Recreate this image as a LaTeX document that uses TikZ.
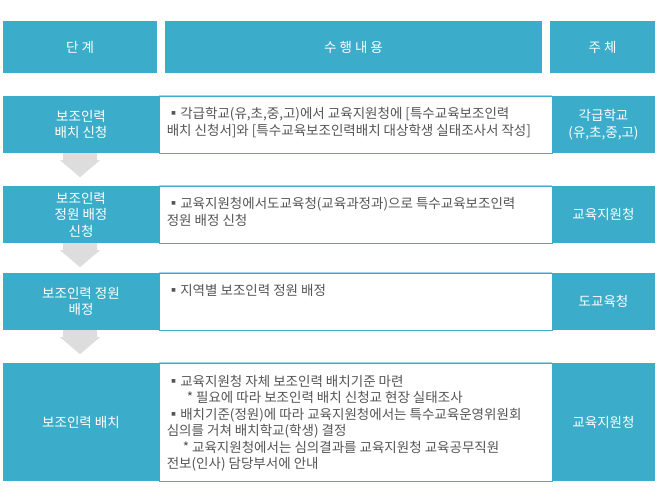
\documentclass[tikz,border=0pt]{standalone}
\usepackage{fontspec}
\setmainfont{Noto Sans CJK KR}
\usepackage{tikz}
\usetikzlibrary{calc,positioning}
\definecolor{tealbox}{RGB}{59,172,201}
\definecolor{tealline}{RGB}{160,214,230}
\definecolor{arrowgray}{RGB}{221,221,221}
\definecolor{textgray}{RGB}{85,85,85}

\begin{document}
\begin{tikzpicture}[x=1pt,y=-1pt,
	head/.style={fill=tealbox,text=white,inner sep=0pt,align=center,font=\fontsize{13.5}{16.5}\selectfont},
	body/.style={fill=white,draw=tealbox,line width=0.8pt,inner sep=0pt},
	memo/.style={anchor=north west,inner sep=0pt,align=left,text=textgray,font=\fontsize{13.5}{16.5}\selectfont}]
\useasboundingbox (0,0) rectangle (660,500);
\node[head,minimum width=154pt,minimum height=52pt] (h1) at (80,47) {단 계};
\node[head,minimum width=377pt,minimum height=52pt] (h2) at (353.5,47) {수 행 내 용};
\node[head,minimum width=105pt,minimum height=52pt] (h3) at (602.5,47) {주 체};
	\begin{scope}[every node/.append style={minimum height=57pt}]
	\node[body,minimum width=393pt] (w1) at (355.5,124.5) {};
	\node[body,minimum width=393pt] (w2) at (355.5,214.5) {};
	\node[body,minimum width=393pt] (w3) at (355.5,301.5) {};
	\node[head,minimum width=156pt] (l1) at (81,124.5) {보조인력\\배치 신청};
	\node[head,minimum width=156pt] (l2) at (81,214.5) {보조인력\\정원 배정\\신청};
	\node[head,minimum width=156pt] (l3) at (81,301.5) {보조인력 정원\\배정};
	\node[head,minimum width=103pt] (r1) at (603.5,124.5) {각급학교\\(유,초,중,고)};
	\node[head,minimum width=103pt] (r2) at (603.5,214.5) {교육지원청};
	\node[head,minimum width=103pt] (r3) at (603.5,301.5) {도교육청};
	\end{scope}
\node[body,minimum width=393pt,minimum height=118pt] (w4) at (355.5,422) {};
\node[head,minimum width=156pt,minimum height=118pt] (l4) at (81,422) {보조인력 배치};
\node[head,minimum width=103pt,minimum height=118pt] (r4) at (603.5,422) {교육지원청};
\foreach \w in {w1,w2,w3,w4}
	\draw[tealline,line width=1.2pt] (\w.north west) -- (\w.north east);
\foreach \a in {l1,l2,l3}
	\fill[arrowgray] ($(\a.south)+(-18,0)$) -- ++(34,0) -- ++(0,7) -- ++(3,0)
		-- ($(\a.south)+(-1,24)$) -- ($(\a.south)+(-21,7)$) -- ++(3,0) -- cycle;
\node[memo] (m1) at ($(w1.north west)+(8,11.5)$) {▪각급학교(유,초,중,고)에서 교육지원청에 [특수교육보조인력\\배치 신청서]와 [특수교육보조인력배치 대상학생 실태조사서 작성]};
\node[memo] (m2) at ($(w2.north west)+(8,11.5)$) {▪교육지원청에서도교육청(교육과정과)으로 특수교육보조인력\\정원 배정 신청};
\node[memo] (m3) at ($(w3.north west)+(8,11.5)$) {▪지역별 보조인력 정원 배정};
\node[memo] (m4) at ($(w4.north west)+(8,12)$) {▪교육지원청 자체 보조인력 배치기준 마련\\
	\hspace*{20pt}* 필요에 따라 보조인력 배치 신청교 현장 실태조사\\
	▪배치기준(정원)에 따라 교육지원청에서는 특수교육운영위원회\\
	심의를 거쳐 배치학교(학생) 결정\\
	\hspace*{16pt}* 교육지원청에서는 심의결과를 교육지원청 교육공무직원\\
	전보(인사) 담당부서에 안내};
\end{tikzpicture}
\end{document}
